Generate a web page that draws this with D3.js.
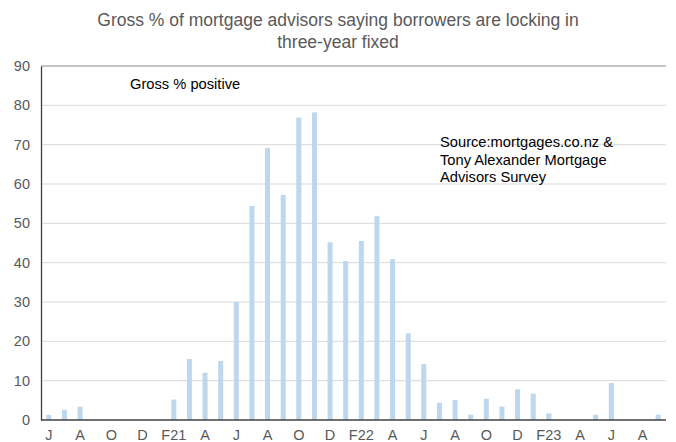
<!DOCTYPE html>
<html><head><meta charset="utf-8">
<script src="https://cdn.jsdelivr.net/npm/d3@7"></script>
<style>body{margin:0;background:#fff}svg{display:block}text{font-family:"Liberation Sans",Arial,sans-serif}</style>
</head><body><div id="c"></div>
<script>
const months = ["Jun20","Jul20","Aug20","Sep20","Oct20","Nov20","Dec20","Jan21","Feb21","Mar21","Apr21","May21","Jun21","Jul21","Aug21","Sep21","Oct21","Nov21","Dec21","Jan22","Feb22","Mar22","Apr22","May22","Jun22","Jul22","Aug22","Sep22","Oct22","Nov22","Dec22","Jan23","Feb23","Mar23","Apr23","May23","Jun23","Jul23","Aug23","Sep23"];
const values = [1.3,2.6,3.4,0,0,0,0,0,5.2,15.5,12.0,15.0,30.0,54.4,69.2,57.2,76.9,78.2,45.2,40.4,45.5,51.9,40.9,22.0,14.2,4.4,5.1,1.35,5.4,3.4,7.8,6.7,1.7,0,0,1.35,9.4,0,0,1.35];
const tickLabels = ["J","","A","","O","","D","","F21","","A","","J","","A","","O","","D","","F22","","A","","J","","A","","O","","D","","F23","","A","","J","","A",""];
const yTicks = [0,10,20,30,40,50,60,70,80,90];
const title = ["Gross % of mortgage advisors saying borrowers are locking in","three-year fixed"];
const note = "Gross % positive";
const source = ["Source:mortgages.co.nz &","Tony Alexander Mortgage","Advisors Survey"];

const W=676,H=442, L=41, R=666, T=66, B=420;
const svg=d3.select("#c").append("svg").attr("width",W).attr("height",H);
const x=d3.scaleBand().domain(months).range([L,R]).paddingInner(0.68).paddingOuter(0.34);
const y=d3.scaleLinear().domain([0,90]).range([B,T]);

svg.append("g").selectAll("line").data(yTicks.filter(d=>d>0&&d<90)).join("line")
  .attr("x1",L).attr("x2",R).attr("y1",d=>y(d)).attr("y2",d=>y(d))
  .attr("stroke","#d9d9d9").attr("stroke-width",1);
svg.append("line").attr("x1",L).attr("x2",R).attr("y1",y(90)).attr("y2",y(90)).attr("stroke","#8c8c8c").attr("stroke-width",1.2);

svg.append("g").selectAll("rect").data(values).join("rect")
  .attr("x",(d,i)=>x(months[i])).attr("width",x.bandwidth())
  .attr("y",d=>y(d)).attr("height",d=>B-y(d)).attr("fill","#bdd7ee");

const ya=svg.append("g").attr("transform",`translate(${L},0)`).call(d3.axisLeft(y).tickValues(yTicks).tickSize(0).tickPadding(11));
ya.select(".domain").attr("stroke","#404040").attr("stroke-width",1.3);
ya.selectAll("text").attr("font-size","14.5px").attr("fill","#595959").attr("font-family","Liberation Sans, Arial, sans-serif");

const xa=svg.append("g").attr("transform",`translate(0,${B})`).call(d3.axisBottom(x).tickSize(0).tickPadding(10).tickFormat((d,i)=>tickLabels[i]));
xa.select(".domain").attr("stroke","#404040").attr("stroke-width",1.3).attr("d",`M${L},0H${R}`);
xa.selectAll("text").attr("font-size","14.5px").attr("fill","#595959").attr("font-family","Liberation Sans, Arial, sans-serif");

svg.append("text").attr("x",338).attr("text-anchor","middle").attr("font-size","17.5px").attr("fill","#595959")
  .selectAll("tspan").data(title).join("tspan").attr("x",338).attr("y",(d,i)=>26+i*22).text(d=>d);

svg.append("text").attr("x",130).attr("y",89).attr("font-size","14.7px").attr("fill","#000").text(note);
svg.append("text").attr("font-size","14.7px").attr("fill","#000")
  .selectAll("tspan").data(source).join("tspan").attr("x",440).attr("y",(d,i)=>147+i*17.5).text(d=>d);
</script></body></html>
